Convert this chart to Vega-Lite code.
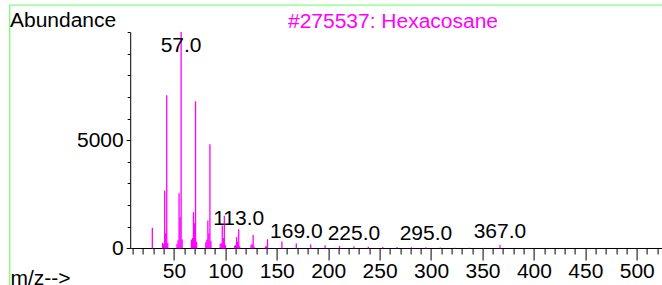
{
  "$schema": "https://vega.github.io/schema/vega-lite/v6.json",
  "width": 670,
  "height": 290,
  "autosize": {"type": "none"},
  "padding": {"left": 9.6, "top": 5, "right": 0, "bottom": 0},
  "background": "white",
  "config": {
    "view": {"stroke": "#80FF80", "strokeWidth": 1.4},
    "font": "Liberation Sans",
    "axis": {
      "grid": false,
      "domainColor": "black",
      "tickColor": "black",
      "domainWidth": 1,
      "tickWidth": 1,
      "labelFont": "Liberation Sans",
      "labelFontSize": 21,
      "labelColor": "black",
      "titleFont": "Liberation Sans",
      "titleFontSize": 21,
      "titleFontWeight": "normal",
      "titleColor": "black"
    }
  },
  "title": {
    "text": "#275537: Hexacosane",
    "color": "#FF00FF",
    "font": "Liberation Sans",
    "fontSize": 21,
    "fontWeight": "normal",
    "anchor": "start",
    "frame": "group",
    "orient": "none",
    "align": "left",
    "baseline": "alphabetic",
    "dx": 278.4,
    "dy": 23.3
  },
  "datasets": {
    "peaks": [
      {"mz": 29, "abundance": 950},
      {"mz": 39, "abundance": 260},
      {"mz": 40, "abundance": 200},
      {"mz": 41, "abundance": 2670},
      {"mz": 42, "abundance": 700},
      {"mz": 43, "abundance": 7080},
      {"mz": 44, "abundance": 250},
      {"mz": 53, "abundance": 200},
      {"mz": 54, "abundance": 370},
      {"mz": 55, "abundance": 2550},
      {"mz": 56, "abundance": 1460},
      {"mz": 57, "abundance": 9999},
      {"mz": 58, "abundance": 420},
      {"mz": 67, "abundance": 400},
      {"mz": 68, "abundance": 480},
      {"mz": 69, "abundance": 1670},
      {"mz": 70, "abundance": 1160},
      {"mz": 71, "abundance": 6800},
      {"mz": 72, "abundance": 300},
      {"mz": 81, "abundance": 280},
      {"mz": 82, "abundance": 400},
      {"mz": 83, "abundance": 1280},
      {"mz": 84, "abundance": 700},
      {"mz": 85, "abundance": 4815},
      {"mz": 86, "abundance": 350},
      {"mz": 95, "abundance": 200},
      {"mz": 96, "abundance": 250},
      {"mz": 97, "abundance": 1050},
      {"mz": 98, "abundance": 480},
      {"mz": 99, "abundance": 1500},
      {"mz": 100, "abundance": 150},
      {"mz": 109, "abundance": 120},
      {"mz": 110, "abundance": 150},
      {"mz": 111, "abundance": 520},
      {"mz": 112, "abundance": 300},
      {"mz": 113, "abundance": 880},
      {"mz": 114, "abundance": 100},
      {"mz": 125, "abundance": 150},
      {"mz": 126, "abundance": 200},
      {"mz": 127, "abundance": 620},
      {"mz": 128, "abundance": 80},
      {"mz": 139, "abundance": 80},
      {"mz": 140, "abundance": 100},
      {"mz": 141, "abundance": 420},
      {"mz": 155, "abundance": 310},
      {"mz": 169, "abundance": 220},
      {"mz": 183, "abundance": 170},
      {"mz": 197, "abundance": 140},
      {"mz": 211, "abundance": 110},
      {"mz": 225, "abundance": 90},
      {"mz": 239, "abundance": 75},
      {"mz": 253, "abundance": 65},
      {"mz": 267, "abundance": 55},
      {"mz": 281, "abundance": 50},
      {"mz": 295, "abundance": 45},
      {"mz": 309, "abundance": 40},
      {"mz": 323, "abundance": 30},
      {"mz": 337, "abundance": 25},
      {"mz": 351, "abundance": 20},
      {"mz": 367, "abundance": 150}
    ],
    "labels": [
      {"mz": 57, "at": 9089, "label": "57.0"},
      {"mz": 113, "at": 1077, "label": "113.0"},
      {"mz": 169, "at": 490, "label": "169.0"},
      {"mz": 225, "at": 384, "label": "225.0"},
      {"mz": 295, "at": 384, "label": "295.0"},
      {"mz": 367, "at": 462, "label": "367.0"}
    ]
  },
  "resolve": {"axis": {"x": "independent", "y": "independent"}},
  "layer": [
    {
      "data": {"name": "peaks"},
      "mark": {"type": "rule", "color": "#FF00FF", "strokeWidth": 1.3},
      "encoding": {
        "x": {
          "field": "mz",
          "type": "quantitative",
          "scale": {"domain": [8, 530], "range": [121.13, 658.0], "nice": false, "zero": false},
          "axis": {
            "orient": "bottom",
            "offset": -47,
            "values": [50, 100, 150, 200, 250, 300, 350, 400, 450, 500],
            "tickSize": 12,
            "labelOverlap": false,
            "labelFlush": false,
            "labelBound": false,
            "labelPadding": 1,
            "format": "d",
            "title": "m/z-->",
            "titleX": 0.4,
            "titleY": 36.8,
            "titleAlign": "left",
            "titleBaseline": "alphabetic",
            "titleAnchor": "start"
          }
        },
        "y": {
          "field": "abundance",
          "type": "quantitative",
          "scale": {"domain": [0, 10000], "range": [243.3, 27], "nice": false, "zero": true},
          "axis": {
            "orient": "left",
            "offset": -120.6,
            "values": [0, 5000],
            "tickSize": 4,
            "labelOverlap": false,
            "labelFlush": false,
            "labelBound": false,
            "labelPadding": 3,
            "format": "d",
            "title": "Abundance",
            "titleAngle": 0,
            "titleX": -120.7,
            "titleY": 21,
            "titleAlign": "left",
            "titleBaseline": "alphabetic",
            "titleAnchor": "start"
          }
        },
        "y2": {"datum": 0}
      }
    },
    {
      "data": {"name": "labels"},
      "mark": {"type": "text", "font": "Liberation Sans", "fontSize": 21, "color": "black", "align": "center", "baseline": "alphabetic"},
      "encoding": {
        "x": {
          "field": "mz",
          "type": "quantitative",
          "scale": {"domain": [8, 530], "range": [121.13, 658.0], "nice": false, "zero": false},
          "axis": {
            "orient": "bottom",
            "offset": -47,
            "values": [10,20,30,40,60,70,80,90,110,120,130,140,160,170,180,190,210,220,230,240,260,270,280,290,310,320,330,340,360,370,380,390,410,420,430,440,460,470,480,490,510,520],
            "tickSize": 6,
            "labels": false,
            "domain": false,
            "title": null
          }
        },
        "y": {
          "field": "at",
          "type": "quantitative",
          "scale": {"domain": [0, 10000], "range": [243.3, 27], "nice": false, "zero": true},
          "axis": {
            "orient": "left",
            "offset": -120.6,
            "values": [1000, 2000, 3000, 4000, 6000, 7000, 8000, 9000, 10000],
            "tickSize": 3,
            "labels": false,
            "domain": false,
            "title": null
          }
        },
        "text": {"field": "label", "type": "nominal"}
      }
    }
  ]
}
